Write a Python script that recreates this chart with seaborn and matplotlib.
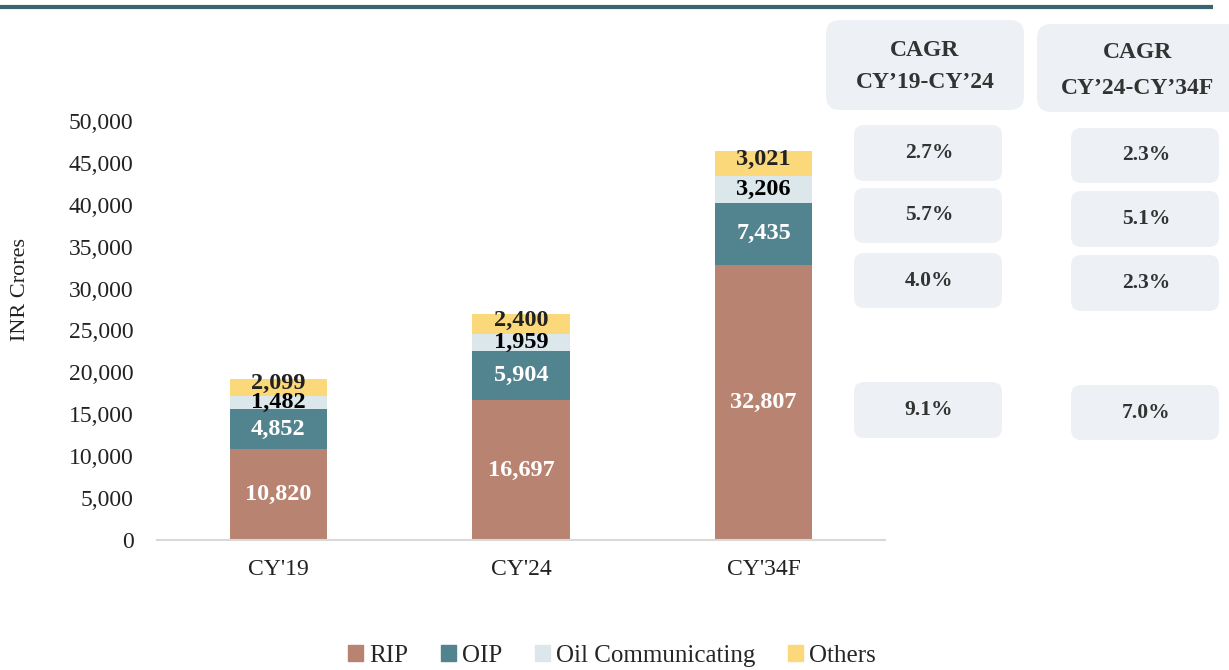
import matplotlib
matplotlib.use("Agg")
import matplotlib.pyplot as plt
from matplotlib.patches import FancyBboxPatch, Patch
from matplotlib.ticker import FuncFormatter
import seaborn as sns
import pandas as pd

# Datos del gráfico
years = ["CY'19", "CY'24", "CY'34F"]
series = ["RIP", "OIP", "Oil Communicating", "Others"]
rip = [10820, 16697, 32807]
oip = [4852, 5904, 7435]
oil_comm = [1482, 1959, 3206]
others = [2099, 2400, 3021]

# CAGR, de arriba hacia abajo: Others, Oil Communicating, OIP, RIP
cagr_19_24 = ["2.7%", "5.7%", "4.0%", "9.1%"]
cagr_24_34 = ["2.3%", "5.1%", "2.3%", "7.0%"]
cagr_headers = ["CAGR\nCY\u201919-CY\u201924", "CAGR\nCY\u201924-CY\u201934F"]

colores = ["#b88471", "#528490", "#dce7ec", "#fbd97a"]
colores_texto = ["white", "white", "black", "#222222"]

sns.set_theme(style="white")
plt.rcParams["font.family"] = ["Liberation Serif", "DejaVu Serif"]

df = pd.DataFrame({"year": years, "RIP": rip, "OIP": oip,
                   "Oil Communicating": oil_comm, "Others": others})
acum = df[series].cumsum(axis=1)

fig = plt.figure(figsize=(12.29, 6.70), dpi=100)

# Capa de fondo en pixeles para cajas y la línea superior
ov = fig.add_axes([0, 0, 1, 1], zorder=0)
ov.set_xlim(0, 1229)
ov.set_ylim(670, 0)
ov.axis("off")
ov.plot([0, 1213], [7, 7], color="#3b6470", lw=3, solid_capstyle="butt")

caja = "#edf1f5"
# cabeceras
for (x0, y0, x1, y1), (tx, ty1, ty2), txt in zip(
        [(826, 20, 1024, 110), (1037, 24, 1240, 112)],
        [(925, 50, 83), (1138, 53, 88)], cagr_headers):
    ov.add_patch(FancyBboxPatch((x0, y0), x1 - x0, y1 - y0,
                                boxstyle="round,pad=0,rounding_size=14",
                                fc=caja, ec="none"))
    linea1, linea2 = txt.split("\n")
    for ty, t in [(ty1, linea1), (ty2, linea2)]:
        ov.text(tx, ty, t, ha="center", va="center", fontsize=17,
                fontweight="bold", color="#333333")

# valores CAGR
filas1 = [(125, 181), (188, 243), (253, 308), (382, 438)]
filas2 = [(128, 183), (191, 247), (255, 311), (385, 440)]
for (xa, xb), filas, valores in [((854, 1002), filas1, cagr_19_24),
                                 ((1071, 1219), filas2, cagr_24_34)]:
    for (ya, yb), v in zip(filas, valores):
        ov.add_patch(FancyBboxPatch((xa, ya), xb - xa, yb - ya,
                                    boxstyle="round,pad=0,rounding_size=10",
                                    fc=caja, ec="none"))
        ov.text((xa + xb) / 2 + 1, (ya + yb) / 2, v, ha="center", va="center",
                fontsize=15.5, fontweight="bold", color="#333333")

# Gráfico de barras apiladas
ax = fig.add_axes([157 / 1229, 1 - 540 / 670, (885 - 157) / 1229, (540 - 121) / 670],
                  zorder=1)
ax.patch.set_alpha(0)

# se dibujan los totales acumulados de mayor a menor
for i in range(len(series) - 1, -1, -1):
    sns.barplot(x=df["year"], y=acum[series[i]], color=colores[i], width=0.4,
                saturation=1, linewidth=0, ax=ax)

for j in range(len(years)):
    base = 0
    for i, s in enumerate(series):
        val = df[s][j]
        yc = base + val / 2
        dy = 3 if s == "Others" else 0
        ax.annotate(f"{val:,}", (j, yc), xytext=(0, dy), textcoords="offset points",
                    ha="center", va="center", fontsize=17.5, fontweight="bold",
                    color=colores_texto[i])
        base += val

ax.set_xlim(-0.5, 2.5)
ax.set_ylim(0, 50000)
ax.set_yticks(range(0, 50001, 5000))
ax.yaxis.set_major_formatter(FuncFormatter(lambda v, p: f"{v:,.0f}"))
ax.set_xlabel("")
ax.set_ylabel("")
ax.tick_params(axis="y", length=0, pad=17, labelsize=17, labelcolor="#222222")
ax.tick_params(axis="x", length=0, pad=14, labelsize=17, labelcolor="#222222")
for lado in ["top", "right", "left"]:
    ax.spines[lado].set_visible(False)
ax.spines["bottom"].set_color("#d9d9d9")
ax.spines["bottom"].set_linewidth(1.5)
ax.grid(False)

fig.text(21 / 1229, 1 - 290 / 670, "INR Crores", rotation=90, ha="center",
         va="center", fontsize=16, color="#222222")

handles = [Patch(color=c, label=s) for c, s in zip(colores, series)]
fig.legend(handles=handles, loc="center", bbox_to_anchor=(612 / 1229, 1 - 656 / 670),
           ncol=4, frameon=False, fontsize=18, handlelength=0.6, handleheight=0.6,
           handletextpad=0.25, columnspacing=1.3)

fig.savefig("out.png", dpi=100)
